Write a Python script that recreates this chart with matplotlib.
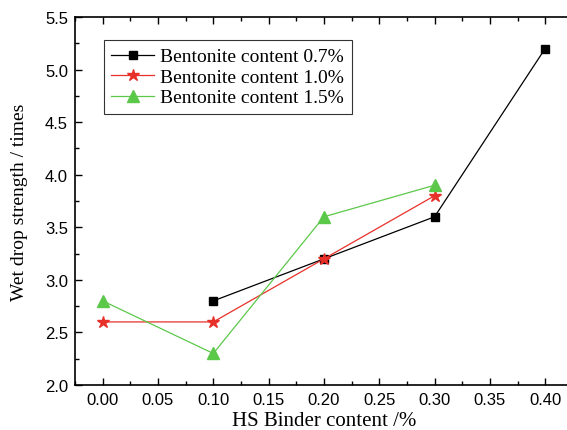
import matplotlib
matplotlib.use("Agg")
import matplotlib.pyplot as plt
from matplotlib.ticker import MultipleLocator, FormatStrFormatter

x_07 = [0.10, 0.20, 0.30, 0.40]
y_07 = [2.8, 3.2, 3.6, 5.2]
x_10 = [0.00, 0.10, 0.20, 0.30]
y_10 = [2.6, 2.6, 3.2, 3.8]
x_15 = [0.00, 0.10, 0.20, 0.30]
y_15 = [2.8, 2.3, 3.6, 3.9]
labels = ["Bentonite content 0.7%", "Bentonite content 1.0%", "Bentonite content 1.5%"]

fig = plt.figure(figsize=(5.67, 4.31), dpi=100)
ax = fig.add_axes([0.1323, 0.1044, 0.878, 0.8538])

ax.plot(x_07, y_07, "-s", color="black", lw=0.9, ms=6, label=labels[0])
ax.plot(x_10, y_10, "-*", color="#e8302a", lw=0.9, ms=9, label=labels[1])
ax.plot(x_15, y_15, "-^", color="#5cc84a", lw=0.9, ms=8, label=labels[2])

ax.set_xlim(-0.025, 0.425)
ax.set_ylim(2.0, 5.5)
ax.xaxis.set_major_locator(MultipleLocator(0.05))
ax.xaxis.set_minor_locator(MultipleLocator(0.025))
ax.yaxis.set_major_locator(MultipleLocator(0.5))
ax.yaxis.set_minor_locator(MultipleLocator(0.25))
ax.xaxis.set_major_formatter(FormatStrFormatter("%.2f"))
ax.yaxis.set_major_formatter(FormatStrFormatter("%.1f"))
ax.tick_params(which="both", direction="in", top=True, right=False, width=1.0)
ax.tick_params(which="major", length=5, labelsize=12, pad=5)
ax.tick_params(which="minor", length=3)
for lab in ax.get_xticklabels() + ax.get_yticklabels():
    lab.set_family("Liberation Sans")
for s in ax.spines.values():
    s.set_linewidth(1.2)

ax.set_xlabel("HS Binder content /%", family="Liberation Serif", fontsize=15, labelpad=3)
ax.set_ylabel("Wet drop strength / times", family="Liberation Serif", fontsize=14, labelpad=12)

leg = ax.legend(loc="upper left", bbox_to_anchor=(0.038, 0.964), prop={"family": "Liberation Serif", "size": 14},
                frameon=True, fancybox=False, edgecolor="black", handlelength=2.2,
                borderpad=0.4, labelspacing=0.15, handletextpad=0.3)
leg.get_frame().set_linewidth(0.8)

fig.savefig("out.png", dpi=100)
